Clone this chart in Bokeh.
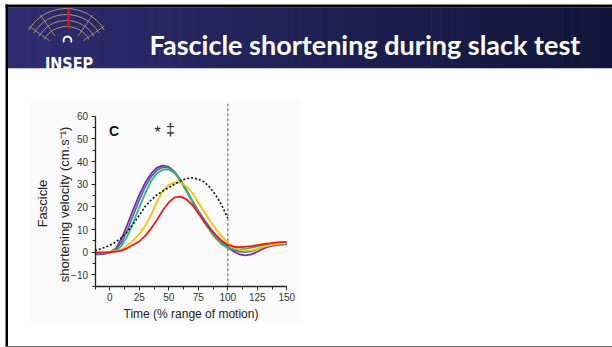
import numpy as np
from bokeh.plotting import figure
from bokeh.models import Range1d, LinearAxis, SingleIntervalTicker
from bokeh.core.properties import value
from bokeh.embed import file_html
from bokeh.resources import INLINE

W, H = 612, 347

# ---- data: fascicle shortening velocity (cm.s-1) vs time (% range of motion)
time_pct = [-12.5, -10, -5, 0, 5, 10, 15, 20, 25, 30, 35, 40, 45, 50, 55, 60, 65,
            70, 75, 80, 85, 90, 95, 100, 105, 110, 115, 120, 125, 130, 135, 140, 145, 150]
vel_purple = [-1.0, -1.0, -0.8, -0.2, 1.5, 6.0, 12.3, 19.0, 25.3, 30.6, 34.6, 37.3, 38.2,
              37.6, 35.3, 31.5, 27.0, 22.5, 18.2, 14.2, 10.5, 7.3, 4.5, 2.2, 0.3, -1.0,
              -1.4, -1.0, 0.2, 1.5, 2.5, 3.1, 3.3, 3.4]
vel_blue = [-0.8, -0.8, -0.6, -0.2, 1.0, 4.3, 9.8, 16.5, 23.0, 28.8, 33.2, 36.2, 37.5,
            37.3, 35.3, 31.8, 27.3, 22.6, 18.2, 14.2, 10.5, 7.2, 4.4, 2.4, 1.0, 0.2,
            0.0, 0.4, 1.3, 2.2, 2.9, 3.3, 3.5, 3.6]
vel_green = [-0.5, -0.5, -0.3, 0.0, 0.6, 2.8, 7.2, 13.2, 19.8, 26.0, 31.3, 34.8, 36.4,
             36.5, 34.8, 31.5, 27.0, 22.2, 17.5, 13.2, 9.3, 6.0, 3.4, 1.8, 1.2, 1.2,
             1.5, 2.0, 2.6, 3.1, 3.5, 3.7, 3.8, 3.8]
vel_yellow = [0.0, 0.0, 0.0, 0.1, 0.4, 1.2, 3.0, 5.3, 7.9, 11.6, 16.6, 22.3, 26.9,
              29.6, 30.8, 30.6, 29.0, 26.0, 21.8, 17.8, 13.8, 10.0, 6.8, 4.3, 2.2, 1.0,
              0.6, 0.8, 1.4, 2.3, 3.0, 3.5, 3.8, 4.0]
vel_red = [-0.2, -0.2, -0.1, 0.0, 0.2, 0.7, 1.8, 3.3, 4.8, 7.2, 10.4, 14.3, 18.5,
           22.0, 24.2, 24.5, 23.3, 20.8, 17.2, 13.5, 10.2, 7.4, 5.0, 3.2, 2.4, 2.2,
           2.4, 2.7, 3.1, 3.5, 3.9, 4.2, 4.4, 4.5]
time_dotted = time_pct[:24]
vel_dotted = [0.7, 1.0, 2.0, 3.0, 4.5, 6.5, 9.0, 12.5, 16.3, 20.2, 23.0, 25.3, 27.0,
              28.5, 30.0, 31.5, 32.5, 32.8, 32.2, 31.0, 28.5, 25.0, 20.5, 15.0]

series = [
    (vel_purple, "#7a2b9c"),
    (vel_blue, "#4a70b8"),
    (vel_green, "#3cb36b"),
    (vel_yellow, "#ffc000"),
    (vel_red, "#ec1c1c"),
]

X_MIN, X_MAX = -12.5, 150
Y_MIN, Y_MAX = -15, 60
ROM_END = 100        # end of range of motion
ROM_LINE_TOP = 65.5  # top of the end-of-motion marker

# placement of the chart on the page, in pixels
X0_PX, X_SCALE = 109.3, 1.18
Y0_PX, Y_SCALE = 251.67, 2.2667

x_lo = -X0_PX / X_SCALE
x_hi = (W - X0_PX) / X_SCALE
y_lo = -(H - Y0_PX) / Y_SCALE
y_hi = Y0_PX / Y_SCALE

p = figure(width=W, height=H, x_range=Range1d(x_lo, x_hi), y_range=Range1d(y_lo, y_hi),
           x_axis_location=None, y_axis_location=None, toolbar_location=None,
           output_backend="svg", outline_line_color=None,
           background_fill_color="white", border_fill_color="white")
p.min_border = 0
p.min_border_left = p.min_border_right = p.min_border_top = p.min_border_bottom = 0
p.grid.visible = False
p.extra_x_ranges = {"px": Range1d(0, W)}
p.extra_y_ranges = {"py": Range1d(H, 0)}
PX = dict(x_range_name="px", y_range_name="py")

# ---- slide frame and header bar
p.quad(left=30, right=300, top=100, bottom=322, fill_color="#fbfbfb", line_color=None, **PX)

n = 60
edges = np.linspace(7.5, W, n + 1)
c0 = np.array([46, 44, 112])
c1 = np.array([16, 21, 56])
cols = ["#%02x%02x%02x" % tuple(int(round(v)) for v in c0 + (c1 - c0) * f)
        for f in np.linspace(0, 1, n)]
p.quad(left=edges[:-1], right=edges[1:] + 0.6, top=7, bottom=67.7,
       fill_color=cols, line_color=None, **PX)
p.quad(left=5, right=W, top=4, bottom=7, fill_color="black", line_color=None, **PX)
p.quad(left=5, right=7.5, top=4, bottom=346, fill_color="black", line_color=None, **PX)
p.quad(left=5, right=W, top=345.6, bottom=347, fill_color="#6b6b6b", line_color=None, **PX)

# logo: fan of arcs with a red needle
cx, cy = 66, 52
for r in [26, 32, 38, 44]:
    p.arc(x=cx, y=cy, radius=r, start_angle=np.pi * 0.17, end_angle=np.pi * 0.83,
          line_color="#c9a36c", line_width=1, line_alpha=0.85, **PX)
angs = np.deg2rad([35, 55, 125, 145])
p.segment(x0=cx + 20 * np.cos(angs), y0=cy - 20 * np.sin(angs),
          x1=cx + 46 * np.cos(angs), y1=cy - 46 * np.sin(angs),
          line_color="#c9a36c", line_width=1, line_alpha=0.7, **PX)
p.segment(x0=68, y0=8, x1=68, y1=28, line_color="#e3101c", line_width=2.5, **PX)
p.arc(x=67, y=40, radius=4, start_angle=-0.5, end_angle=3.6,
      line_color="white", line_width=1.8, **PX)
p.text(x=[68.5], y=[63], text=["INSEP"], text_align="center", text_baseline="alphabetic",
       text_font=value("Liberation Sans Narrow, DejaVu Sans Condensed, Liberation Sans"),
       text_font_style="bold", text_font_size="16px", text_color="white", **PX)

p.text(x=[149], y=[44], text=["Fascicle shortening during slack test"],
       text_align="left", text_baseline="alphabetic", text_font=value("Lato"),
       text_font_style="bold", text_font_size="27px", text_color="white", **PX)

# ---- chart
p.line([ROM_END, ROM_END], [Y_MIN, ROM_LINE_TOP], line_color="#8c8c8c",
       line_width=1.5, line_dash="3 2")
for vals, col in series:
    p.line(time_pct, vals, line_color=col, line_width=1.8)
p.line(time_dotted, vel_dotted, line_color="#111111", line_width=1.6, line_dash="2 2")

xaxis = LinearAxis(fixed_location=Y_MIN, bounds=(X_MIN, X_MAX),
                   ticker=SingleIntervalTicker(interval=25, num_minor_ticks=2),
                   axis_label="Time (% range of motion)")
yaxis = LinearAxis(fixed_location=X_MIN, bounds=(Y_MIN, Y_MAX),
                   ticker=SingleIntervalTicker(interval=10, num_minor_ticks=2))
for ax in (xaxis, yaxis):
    ax.axis_line_color = "#222222"
    ax.axis_line_width = 1.3
    ax.major_tick_line_color = "#222222"
    ax.minor_tick_line_color = "#222222"
    ax.major_tick_in = 0
    ax.major_tick_out = 4
    ax.minor_tick_in = 0
    ax.minor_tick_out = 3
    ax.major_label_text_font = "Liberation Sans"
    ax.major_label_text_font_size = "10px"
    ax.major_label_text_color = "#333333"
    ax.major_label_standoff = 3
xaxis.axis_label_text_font = "Liberation Sans"
xaxis.axis_label_text_font_size = "12px"
xaxis.axis_label_text_font_style = "normal"
xaxis.axis_label_text_color = "#222222"
xaxis.axis_label_standoff = 2
p.add_layout(xaxis, "below")
p.add_layout(yaxis, "left")

# y-axis title on two lines
p.text(x=[42, 63.5], y=[203, 204], text=["Fascicle", "shortening velocity (cm.s\u207b\u00b9)"],
       angle=np.pi / 2, text_align="center", text_baseline="middle",
       text_font=value("Liberation Sans"), text_font_size="13px", text_color="#222222", **PX)

# panel letter and significance marks
p.text(x=[108.5], y=[130.5], text=["C"], text_align="left", text_baseline="alphabetic",
       text_font=value("Liberation Sans"), text_font_style="bold", text_font_size="14px",
       text_color="#111111", **PX)
p.text(x=[157], y=[132], text=["*"], text_align="center", text_baseline="alphabetic",
       text_font=value("Liberation Sans"), text_font_size="16px", text_color="#222222", **PX)
p.text(x=[170], y=[129], text=["\u2021"], text_align="center", text_baseline="alphabetic",
       text_font=value("Liberation Sans"), text_font_size="16px", text_color="#222222", **PX)

open("out.html", "w").write(file_html(p, INLINE))
